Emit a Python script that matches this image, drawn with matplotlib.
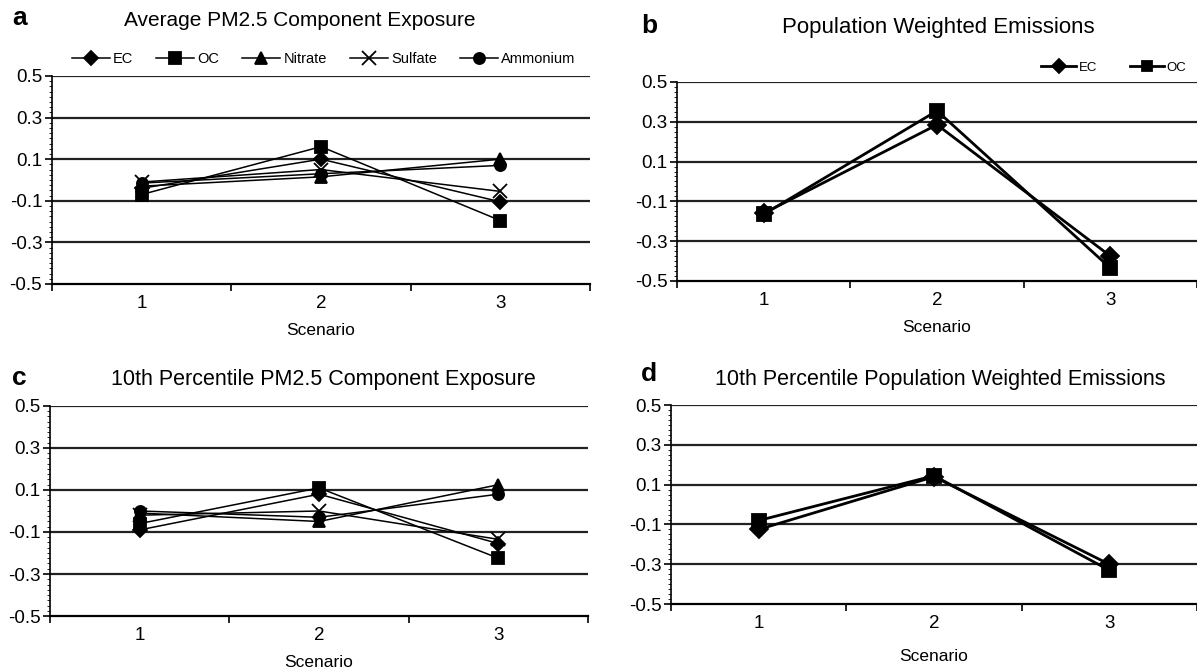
import matplotlib.pyplot as plt
from matplotlib.ticker import MultipleLocator

plt.rcParams["font.family"] = ["Liberation Sans", "DejaVu Sans"]

scenarios = [1, 2, 3]
components = ["EC", "OC", "Nitrate", "Sulfate", "Ammonium"]
markers = {"EC": "D", "OC": "s", "Nitrate": "^", "Sulfate": "x", "Ammonium": "o"}

# panel a: average PM2.5 component exposure
avg_exposure = {
    "EC": [-0.04, 0.10, -0.105],
    "OC": [-0.07, 0.16, -0.195],
    "Nitrate": [-0.03, 0.015, 0.10],
    "Sulfate": [-0.01, 0.05, -0.055],
    "Ammonium": [-0.015, 0.03, 0.07],
}
# panel b: population weighted emissions
pw_emissions = {
    "EC": [-0.16, 0.285, -0.375],
    "OC": [-0.165, 0.355, -0.435],
}
# panel c: 10th percentile exposure
p10_exposure = {
    "EC": [-0.09, 0.08, -0.155],
    "OC": [-0.06, 0.11, -0.225],
    "Nitrate": [-0.01, -0.05, 0.125],
    "Sulfate": [-0.02, 0.0, -0.135],
    "Ammonium": [0.0, -0.03, 0.08],
}
# panel d: 10th percentile population weighted emissions
p10_emissions = {
    "EC": [-0.125, 0.14, -0.30],
    "OC": [-0.08, 0.145, -0.33],
}


def style_axes(ax, xmax, labelpad=8):
    ax.set_xlim(0.5, xmax)
    ax.set_ylim(-0.5, 0.5)
    ax.set_yticks([-0.5, -0.3, -0.1, 0.1, 0.3, 0.5])
    ax.set_yticklabels(["-0.5", "-0.3", "-0.1", "0.1", "0.3", "0.5"])
    ax.yaxis.set_minor_locator(MultipleLocator(0.025))
    ax.set_xticks([1, 2, 3])
    ax.set_xticks([0.5, 1.5, 2.5, 3.5], minor=True)
    ax.tick_params(axis="x", which="major", length=0, labelsize=13.5, pad=8)
    ax.tick_params(axis="x", which="minor", length=5, width=1.2, direction="out")
    ax.tick_params(axis="y", which="major", length=5, width=1.2, labelsize=13.5, pad=2)
    ax.tick_params(axis="y", which="minor", length=2, width=0.6)
    for y in [-0.3, -0.1, 0.1, 0.3, 0.5]:
        ax.axhline(y, color="#222222", lw=1.6, zorder=1)
    for s in ["top", "right"]:
        ax.spines[s].set_visible(False)
    ax.spines["left"].set_linewidth(1.2)
    ax.spines["bottom"].set_linewidth(1.6)
    ax.set_xlabel("Scenario", fontsize=12.5, labelpad=labelpad)


def draw_series(ax, data, lw, ms):
    handles = []
    for name, vals in data.items():
        m = markers[name]
        size = ms + 2 if m == "x" else (ms - 1 if m == "D" else ms)
        (h,) = ax.plot(scenarios, vals, color="black", lw=lw, marker=m,
                       markersize=size, markeredgewidth=1.3, label=name,
                       zorder=3, clip_on=False)
        handles.append(h)
    return handles


fig = plt.figure(figsize=(11.97, 6.69), dpi=100)

ax_a = fig.add_axes([0.0434, 0.5755, 0.4495, 0.311])
style_axes(ax_a, 3.5)
h = draw_series(ax_a, avg_exposure, 1.1, 8)
ax_a.legend(h, components, ncol=5, frameon=False, fontsize=10.5,
            loc="lower center", bbox_to_anchor=(0.505, 1.0), handlelength=2.6,
            columnspacing=1.6, handletextpad=0.2, borderaxespad=0.3)

ax_b = fig.add_axes([0.5656, 0.58, 0.4344, 0.2975])
style_axes(ax_b, 3.42)
h = draw_series(ax_b, pw_emissions, 2.0, 10)
ax_b.legend(h, ["EC", "OC"], ncol=2, frameon=False, fontsize=9.5,
            loc="lower right", bbox_to_anchor=(0.995, 1.0), handlelength=2.6,
            markerscale=0.75, columnspacing=2.5, handletextpad=0.2,
            borderaxespad=0.2)

ax_c = fig.add_axes([0.0418, 0.0792, 0.4495, 0.314])
style_axes(ax_c, 3.5)
draw_series(ax_c, p10_exposure, 1.1, 8)

ax_d = fig.add_axes([0.5606, 0.097, 0.4394, 0.2975])
style_axes(ax_d, 3.44, labelpad=12)
draw_series(ax_d, p10_emissions, 2.0, 10)

fig.text(300 / 1197, 1 - 20 / 669, "Average PM2.5 Component Exposure",
         ha="center", va="center", fontsize=15)
fig.text(938 / 1197, 1 - 28 / 669, "Population Weighted Emissions",
         ha="center", va="center", fontsize=16)
fig.text(323 / 1197, 1 - 379 / 669, "10th Percentile PM2.5 Component Exposure",
         ha="center", va="center", fontsize=15.5)
fig.text(940 / 1197, 1 - 379 / 669, "10th Percentile Population Weighted Emissions",
         ha="center", va="center", fontsize=15.5)

for label, x, y in [("a", 12, 18), ("b", 641, 26), ("c", 12, 378), ("d", 641, 374)]:
    fig.text(x / 1197, 1 - y / 669, label, ha="left", va="center",
             fontsize=19, fontweight="bold")

fig.savefig("out.png", dpi=100)
